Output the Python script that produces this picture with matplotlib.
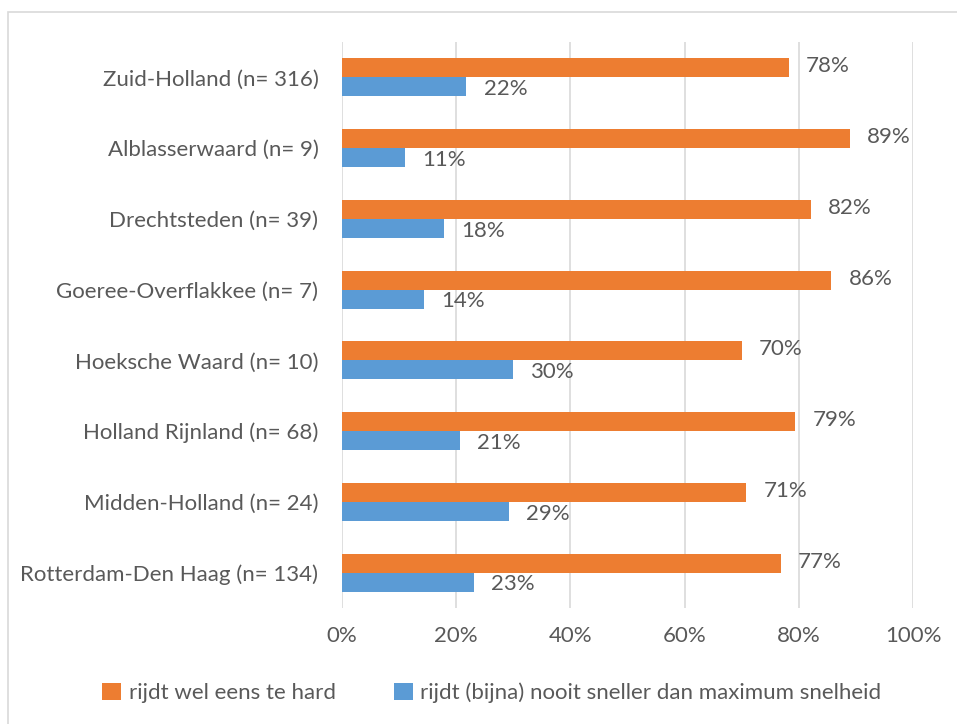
import matplotlib.pyplot as plt
import matplotlib.patches as mpatches
import numpy as np

# Data
regions = ["Zuid-Holland (n= 316)", "Alblasserwaard (n= 9)", "Drechtsteden (n= 39)",
           "Goeree-Overflakkee (n= 7)", "Hoeksche Waard (n= 10)", "Holland Rijnland (n= 68)",
           "Midden-Holland (n= 24)", "Rotterdam-Den Haag (n= 134)"]
te_hard = [78.2, 88.9, 82.1, 85.7, 70.0, 79.4, 70.8, 76.9]
nooit = [21.8, 11.1, 17.9, 14.3, 30.0, 20.6, 29.2, 23.1]
x_ticks = [0, 20, 40, 60, 80, 100]

orange = "#ED7D31"
blue = "#5B9BD5"
txt = "#595959"
fs = 16
plt.rcParams['font.family'] = ['Lato', 'DejaVu Sans']

fig = plt.figure(figsize=(9.57, 7.24), dpi=100)
ax = fig.add_axes([0.3574, 0.1602, 0.5966, 0.7818])

# chart border
fig.patches.append(mpatches.Rectangle((8 / 957, -0.1), 1.2, 1 - 12 / 724 + 0.1,
                                      transform=fig.transFigure, fill=False,
                                      edgecolor="#D9D9D9", linewidth=1.2))

y = np.arange(len(regions))[::-1].astype(float)
h = 0.27
ax.barh(y + h / 2, te_hard, height=h, color=orange, label="rijdt wel eens te hard", zorder=3)
ax.barh(y - h / 2, nooit, height=h, color=blue,
        label="rijdt (bijna) nooit sneller dan maximum snelheid", zorder=3)

for yi, a, b in zip(y, te_hard, nooit):
    ax.text(a + 3, yi + h / 2 + 0.02, f"{a:.0f}%", va="center", ha="left", fontsize=fs, color=txt)
    ax.text(b + 3, yi - h / 2 - 0.03, f"{b:.0f}%", va="center", ha="left", fontsize=fs, color=txt)

ax.set_xlim(0, 100)
ax.set_ylim(-0.5, len(regions) - 0.5)
ax.set_xticks(x_ticks)
ax.set_xticklabels([f"{t}%" for t in x_ticks])
ax.set_yticks(y)
ax.set_yticklabels(regions)
ax.tick_params(axis="both", length=0, labelsize=fs, labelcolor=txt)
ax.tick_params(axis="x", pad=13)
ax.tick_params(axis="y", pad=17)
ax.grid(axis="x", color="#D9D9D9", linewidth=1.2, zorder=0)
for s in ax.spines.values():
    s.set_visible(False)

fig.legend(loc="center", bbox_to_anchor=(0.514, 0.043), ncol=2, frameon=False,
           fontsize=fs, labelcolor=txt, handlelength=0.85, handleheight=0.85,
           handletextpad=0.35, columnspacing=2.6)

fig.savefig("out.png", dpi=100)
